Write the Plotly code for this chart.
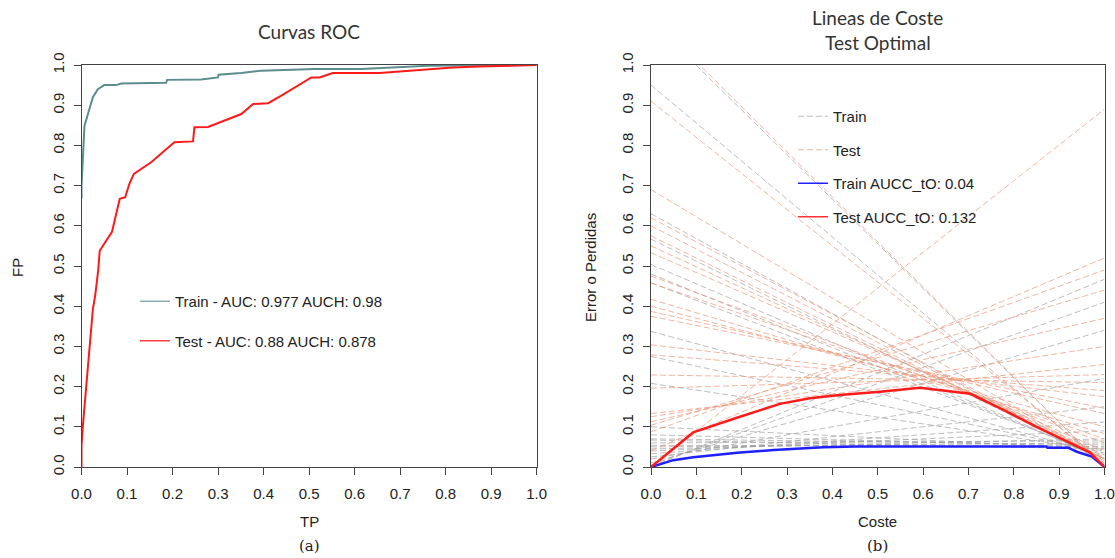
import plotly.graph_objects as go

# ---------------- data ----------------
# Left panel: ROC curves
roc_train_x = [0.0, 0.0, 0.0066, 0.014, 0.025, 0.036, 0.05, 0.076, 0.087, 0.186, 0.188, 0.263,
               0.30, 0.301, 0.351, 0.395, 0.512, 0.615, 0.666, 0.714, 0.76, 0.82, 0.9, 1.0]
roc_train_y = [0.667, 0.70, 0.849, 0.878, 0.92, 0.94, 0.95, 0.95, 0.954, 0.956, 0.963, 0.964,
               0.969, 0.976, 0.98, 0.986, 0.99, 0.99, 0.993, 0.997, 0.998, 0.999, 1.0, 1.0]
roc_test_x = [0.0, 0.0, 0.003, 0.010, 0.018, 0.025, 0.030, 0.037, 0.040, 0.067, 0.084, 0.091,
              0.096, 0.105, 0.115, 0.153, 0.204, 0.245, 0.248, 0.278, 0.351, 0.377, 0.41, 0.439,
              0.505, 0.523, 0.552, 0.655, 0.758, 0.816, 0.875, 0.94, 1.0]
roc_test_y = [0.0, 0.053, 0.103, 0.194, 0.31, 0.393, 0.426, 0.493, 0.538, 0.585, 0.667, 0.669,
              0.671, 0.704, 0.729, 0.758, 0.808, 0.81, 0.845, 0.846, 0.878, 0.903, 0.905, 0.924,
              0.969, 0.969, 0.98, 0.98, 0.988, 0.994, 0.996, 0.998, 1.0]

# Right panel: cost lines, value at Coste = 0 (left) and Coste = 1 (right)
cost_x_ends = [0.0, 1.0]
cost_train_left = [1.11, 0.95, 0.63, 0.567, 0.504, 0.48, 0.458, 0.3375, 0.275, 0.208,
                   0.10, 0.08, 0.07, 0.067, 0.06, 0.054, 0.05, 0.045, 0.04, 0.033, 0.025,
                   0.02, 0.01, 0.005, 0.0]
cost_train_right = [0.0, 0.005, 0.01, 0.015, 0.02, 0.022, 0.025, 0.03, 0.035, 0.04,
                    0.045, 0.05, 0.055, 0.045, 0.065, 0.05, 0.06, 0.07, 0.09, 0.112, 0.15,
                    0.22, 0.34, 0.41, 0.467]
cost_test_left = [1.12, 0.91, 0.69, 0.62, 0.60, 0.575, 0.55, 0.533, 0.475, 0.458, 0.417,
                  0.40, 0.387, 0.375, 0.304, 0.279, 0.229, 0.196, 0.133, 0.125, 0.1125,
                  0.104, 0.0875, 0.041, 0.0]
cost_test_right = [0.0, 0.01, 0.015, 0.02, 0.02, 0.02, 0.03, 0.04, 0.06, 0.07, 0.083,
                   0.10, 0.133, 0.146, 0.175, 0.19, 0.21, 0.23, 0.255, 0.30, 0.37,
                   0.44, 0.49, 0.52, 0.89]

# Optimal (lower envelope) cost curves
env_train_x = [0.0, 0.049, 0.093, 0.196, 0.27, 0.38, 0.45, 0.872, 0.874, 0.92, 0.939, 0.972, 1.0]
env_train_y = [0.0, 0.017, 0.024, 0.036, 0.042, 0.049, 0.051, 0.051, 0.048, 0.048, 0.038, 0.026, 0.0]
env_test_x = [0.0, 0.093, 0.196, 0.284, 0.35, 0.416, 0.505, 0.593, 0.63, 0.704, 0.777, 0.85,
              0.924, 0.968, 1.0]
env_test_y = [0.0, 0.086, 0.125, 0.157, 0.171, 0.179, 0.187, 0.197, 0.192, 0.182, 0.142, 0.1,
              0.06, 0.036, 0.0]

roc_legend = ["Train - AUC: 0.977 AUCH: 0.98", "Test - AUC: 0.88 AUCH: 0.878"]
cost_legend = ["Train", "Test", "Train AUCC_tO: 0.04", "Test AUCC_tO: 0.132"]

tick_vals = [0.0, 0.1, 0.2, 0.3, 0.4, 0.5, 0.6, 0.7, 0.8, 0.9, 1.0]

# ---------------- styling ----------------
W, H = 1115, 558
TEAL = "#5b8c8e"
RED = "#ff1a1a"
BLUE = "#1f1fff"
GRAY_D = "rgba(155,155,155,0.65)"
SALMON_D = "rgba(236,150,118,0.70)"
DASH = "6px,3px"
TXT = "#222222"
FONT = "Liberation Sans, Arial, sans-serif"
TICKFONT = dict(family=FONT, size=15, color=TXT)
LEGFONT = dict(family=FONT, size=15, color=TXT)
TITLEFONT = dict(family="Lato, Open Sans, sans-serif", size=19, color="#333333")

fig = go.Figure()

# ---- Left panel ----
fig.add_trace(go.Scatter(x=roc_train_x, y=roc_train_y, mode="lines",
                         line=dict(color=TEAL, width=2), showlegend=False,
                         xaxis="x", yaxis="y"))
fig.add_trace(go.Scatter(x=roc_test_x, y=roc_test_y, mode="lines",
                         line=dict(color=RED, width=2), showlegend=False,
                         xaxis="x", yaxis="y"))
# legend entries (thin keys, as in the reference)
fig.add_trace(go.Scatter(x=[None], y=[None], mode="lines", name=roc_legend[0],
                         line=dict(color="#8aaeb0", width=1.5), legend="legend",
                         legendgroup="a1", xaxis="x", yaxis="y"))
fig.add_trace(go.Scatter(x=[None], y=[None], mode="lines", name=roc_legend[1],
                         line=dict(color="#ff4040", width=1.5), legend="legend",
                         legendgroup="a2", xaxis="x", yaxis="y"))

# ---- Right panel ----
for i, (a, b) in enumerate(zip(cost_train_left, cost_train_right)):
    fig.add_trace(go.Scatter(x=cost_x_ends, y=[a, b], mode="lines",
                             line=dict(color=GRAY_D, width=1, dash=DASH),
                             name=cost_legend[0], legend="legend2", legendgroup="b1",
                             showlegend=(i == 0), xaxis="x2", yaxis="y2"))
for i, (a, b) in enumerate(zip(cost_test_left, cost_test_right)):
    fig.add_trace(go.Scatter(x=cost_x_ends, y=[a, b], mode="lines",
                             line=dict(color=SALMON_D, width=1, dash=DASH),
                             name=cost_legend[1], legend="legend2", legendgroup="b2",
                             showlegend=(i == 0), xaxis="x2", yaxis="y2"))
fig.add_trace(go.Scatter(x=env_train_x, y=env_train_y, mode="lines",
                         line=dict(color=BLUE, width=2.5), showlegend=False,
                         xaxis="x2", yaxis="y2"))
fig.add_trace(go.Scatter(x=env_test_x, y=env_test_y, mode="lines",
                         line=dict(color=RED, width=2.5), showlegend=False,
                         xaxis="x2", yaxis="y2"))
fig.add_trace(go.Scatter(x=[None], y=[None], mode="lines", name=cost_legend[2],
                         line=dict(color=BLUE, width=1.5), legend="legend2",
                         legendgroup="b3", xaxis="x2", yaxis="y2"))
fig.add_trace(go.Scatter(x=[None], y=[None], mode="lines", name=cost_legend[3],
                         line=dict(color="#ff3030", width=1.5), legend="legend2",
                         legendgroup="b4", xaxis="x2", yaxis="y2"))

x0a, x1a = 81.5, 536.7
x0b, x1b = 651.0, 1104.5
ytop, ybot = 65.0, 467.0
ydom = [(H - ybot) / H, (H - ytop) / H]

axis_common = dict(range=[0, 1], tickvals=tick_vals, tickformat=".1f", ticks="outside",
                   ticklen=7, tickcolor="#444", tickwidth=1, showgrid=False, zeroline=False,
                   showline=True, linecolor="#444", linewidth=1, mirror=True,
                   tickfont=TICKFONT, automargin=False)

fig.update_layout(
    width=W, height=H, margin=dict(l=0, r=0, t=0, b=0, autoexpand=False),
    paper_bgcolor="white", plot_bgcolor="white",
    xaxis=dict(domain=[x0a / W, x1a / W], anchor="y", ticklabelstandoff=6, **axis_common),
    yaxis=dict(domain=ydom, anchor="x", tickangle=-90, ticklabelstandoff=4, **axis_common),
    xaxis2=dict(domain=[x0b / W, x1b / W], anchor="y2", ticklabelstandoff=6, **axis_common),
    yaxis2=dict(domain=ydom, anchor="x2", tickangle=-90, ticklabelstandoff=4, **axis_common),
    legend=dict(x=135 / W, y=1 - 285 / H, xanchor="left", yanchor="top",
                bgcolor="rgba(0,0,0,0)", font=LEGFONT, tracegroupgap=17,
                traceorder="grouped"),
    legend2=dict(x=793 / W, y=1 - 100 / H, xanchor="left", yanchor="top",
                 bgcolor="rgba(0,0,0,0)", font=LEGFONT, tracegroupgap=11,
                 traceorder="grouped"),
    showlegend=True,
)

ann = [
    dict(text="Curvas ROC", x=(x0a + x1a) / 2 / W, y=1 - 31 / H, font=TITLEFONT),
    dict(text="Lineas de Coste", x=(x0b + x1b) / 2 / W, y=1 - 18 / H, font=TITLEFONT),
    dict(text="Test Optimal", x=(x0b + x1b) / 2 / W, y=1 - 42 / H, font=TITLEFONT),
    dict(text="TP", x=(x0a + x1a) / 2 / W, y=1 - 521 / H, font=TICKFONT),
    dict(text="Coste", x=(x0b + x1b) / 2 / W, y=1 - 521 / H, font=TICKFONT),
    dict(text="(a)", x=(x0a + x1a) / 2 / W, y=1 - 546 / H,
         font=dict(family="DejaVu Serif, serif", size=15, color=TXT)),
    dict(text="(b)", x=(x0b + x1b) / 2 / W, y=1 - 546 / H,
         font=dict(family="DejaVu Serif, serif", size=15, color=TXT)),
    dict(text="FP", x=17 / W, y=1 - 268 / H, textangle=-90, font=TICKFONT),
    dict(text="Error o Perdidas", x=590 / W, y=1 - 268 / H, textangle=-90, font=TICKFONT),
]
for a in ann:
    a.update(xref="paper", yref="paper", showarrow=False, xanchor="center", yanchor="middle")
fig.update_layout(annotations=ann)

fig.write_html("out.html")
